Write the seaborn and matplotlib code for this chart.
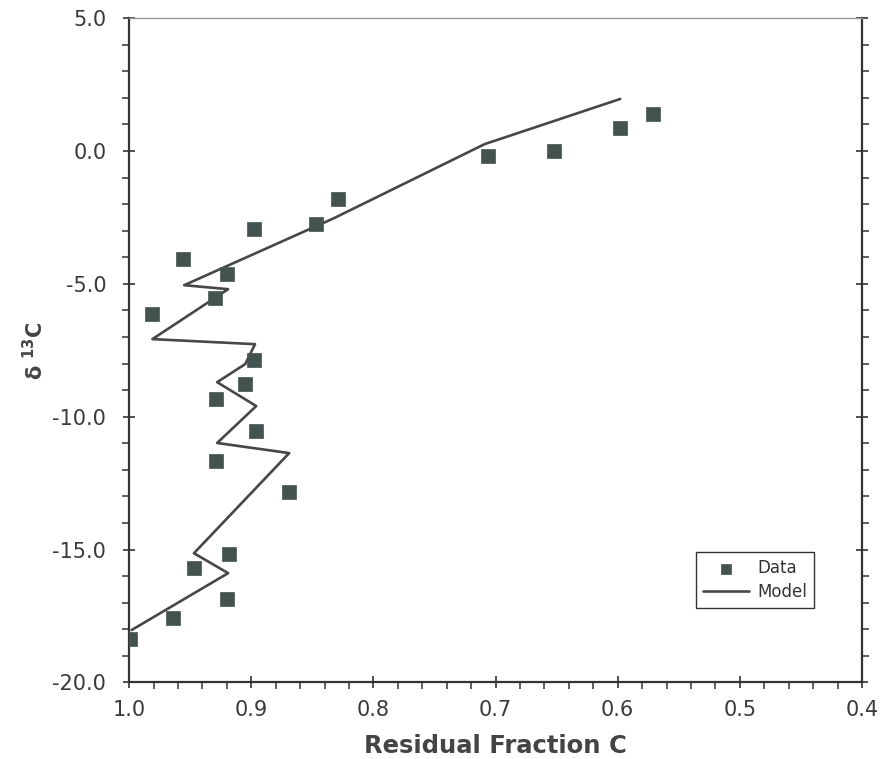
import numpy as np
import pandas as pd
import matplotlib
matplotlib.use("Agg")
import matplotlib.pyplot as plt
import matplotlib.ticker as mticker
import seaborn as sns

# measured data points (residual fraction, delta 13C)
data_frac = [0.571, 0.598, 0.652, 0.706, 0.829, 0.847, 0.898, 0.956, 0.920, 0.930,
             0.981, 0.898, 0.905, 0.929, 0.896, 0.929, 0.869, 0.918, 0.947, 0.920,
             0.964, 0.999]
data_d13c = [1.39, 0.87, 0.00, -0.19, -1.81, -2.75, -2.94, -4.07, -4.63, -5.53,
             -6.14, -7.87, -8.77, -9.34, -10.54, -11.67, -12.84, -15.17, -15.70, -16.87,
             -17.58, -18.37]

# model curve
model_frac = [0.598, 0.709, 0.832, 0.955, 0.919, 0.981, 0.897, 0.905, 0.928, 0.896,
              0.928, 0.869, 0.947, 0.919, 0.998]
model_d13c = [1.96, 0.26, -2.52, -5.05, -5.20, -7.08, -7.27, -8.02, -8.70, -9.60,
              -10.99, -11.37, -15.14, -15.89, -18.03]

df_data = pd.DataFrame({"frac": data_frac, "d13c": data_d13c})
df_model = pd.DataFrame({"frac": model_frac, "d13c": model_d13c})

sns.set_style("ticks")
plt.rcParams["font.family"] = ["DejaVu Sans"]
plt.rcParams["axes.unicode_minus"] = False

fig = plt.figure(figsize=(8.85, 7.59), dpi=100)
ax = fig.add_axes([0.146, 0.101, 0.828, 0.875])

sns.lineplot(data=df_model, x="frac", y="d13c", sort=False, estimator=None,
             color="#474747", linewidth=1.9, label="Model", ax=ax, zorder=2)
sns.scatterplot(data=df_data, x="frac", y="d13c", marker="s", s=95,
                color="#44534f", edgecolor="#44534f", linewidth=0.5,
                label="Data", ax=ax, zorder=3)

ax.set_xlim(1.0, 0.4)
ax.set_ylim(-20, 5)
ax.xaxis.set_major_locator(mticker.MultipleLocator(0.1))
ax.xaxis.set_minor_locator(mticker.MultipleLocator(0.02))
ax.yaxis.set_major_locator(mticker.MultipleLocator(5))
ax.yaxis.set_minor_locator(mticker.MultipleLocator(1))
ax.xaxis.set_major_formatter(mticker.FormatStrFormatter("%.1f"))
ax.yaxis.set_major_formatter(mticker.FormatStrFormatter("%.1f"))

ax.tick_params(which="major", direction="inout", length=9, width=1.2,
               color="#333333", labelsize=15, labelcolor="#3a3a3a",
               left=True, right=True, bottom=True, top=False, labelright=False)
ax.tick_params(which="minor", direction="out", length=5, width=1.1,
               color="#333333", left=True, right=True, bottom=True, top=False)
ax.tick_params(axis="x", which="major", pad=8)
ax.tick_params(axis="y", which="major", pad=12)

for side in ["left", "bottom", "right"]:
    ax.spines[side].set_color("#333333")
    ax.spines[side].set_linewidth(1.6)
ax.spines["top"].set_color("#999999")
ax.spines["top"].set_linewidth(1.0)

ax.set_xlabel("Residual Fraction C", fontsize=17.5, fontweight="bold",
              color="#444444", labelpad=10)
ax.set_ylabel(r"δ $^{\mathbf{13}}$C", fontsize=15, fontweight="bold",
              color="#444444", labelpad=4)

handles, labels = ax.get_legend_handles_labels()
order = [labels.index("Data"), labels.index("Model")]
leg = ax.legend([handles[i] for i in order], [labels[i] for i in order],
                loc="lower right", bbox_to_anchor=(0.946, 0.1), fontsize=12,
                frameon=True, fancybox=False, framealpha=1, edgecolor="#333333",
                borderpad=0.4, labelspacing=0.35, handlelength=2.8,
                handletextpad=0.5, markerscale=0.7, labelcolor="#333333")
leg.get_frame().set_linewidth(1.0)

fig.savefig("out.png", dpi=100)
